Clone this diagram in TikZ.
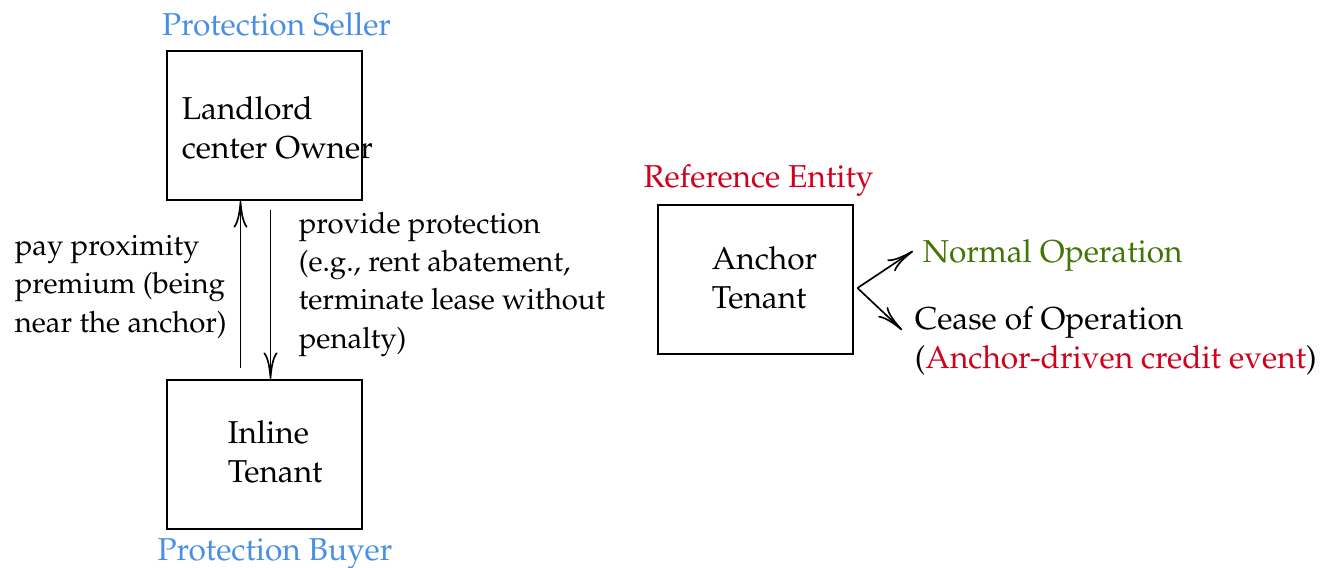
\documentclass[tikz,border=0pt]{standalone}
\usepackage[T1]{fontenc}
\usepackage{mathpazo}
\usepackage{xcolor}
\usetikzlibrary{calc, arrows.meta, positioning}
\definecolor{roleblue}{HTML}{4A90E2}
\definecolor{refred}{HTML}{D0021B}
\definecolor{normgreen}{HTML}{417505}
\tikzset{
    every node/.style = {font=\fontsize{9.5pt}{11.6pt}\selectfont},
    party/.style = {draw, line width=0.6pt, minimum width=58.5pt, minimum height=44.7pt, inner sep=0pt}, % the boxes of the parties
    partytext/.style = {align=left, inner sep=0pt, anchor=west},
    role/.style = {inner sep=0pt, anchor=base},
    outcome/.style = {align=left, inner sep=0pt, anchor=base west}, % base is the last line
    flow/.style = {outcome, font=\fontsize{8.8pt}{11.5pt}\selectfont} % the smaller labels of the arrows
}
\begin{document}
\begin{tikzpicture}[x=0.3pt, y=-0.3pt, >={To[length=8pt,width=4.2pt]}, line width=0.5pt]
    \useasboundingbox (0,0) rectangle (1325,567);
    % the three parties
    \node [party] (land) at (264.5,125.5) {};
    \node [party] (inline) at (264.5,454.5) {};
    \node [party] (anchor) at (755,279) {};
    \node [partytext] (landtxt) at (181,128) {Landlord\\center Owner};
    \node [partytext] (inlinetxt) at (227,452) {Inline\\Tenant};
    \node [partytext] (anchortxt) at (711,278) {Anchor\\Tenant};
    % roles
    \node [role, text=roleblue] (seller) at (276.5,35) {Protection Seller};
    \node [role, text=roleblue] (buyer) at (275,560) {Protection Buyer};
    \node [role, text=refred] (refent) at (758.5,187) {Reference Entity};
    % premium and protection
    \draw [->] ([xshift=-7.2pt,yshift=3.3pt]inline.north) -- ([xshift=-7.2pt]land.south);
    \draw [->] ([xshift=1.8pt,yshift=-2.7pt]land.south) -- ([xshift=1.8pt]inline.north);
    \node [flow] (premium) at (14,332) {pay proximity\\premium (being\\near the anchor)};
    \node [flow] (protect) at (298,348) {provide protection\\(e.g., rent abatement,\\terminate lease without\\penalty)};
    % outcomes of the anchor
    \coordinate (fork) at ([xshift=1.2pt,yshift=-2.7pt]anchor.east);
    \node [outcome, text=normgreen] (normal) at (922,262) {Normal Operation};
    \node [outcome] (cease) at (914,368) {Cease of Operation\\(\textcolor{refred}{Anchor-driven credit event})};
    \coordinate (normtip) at (913,251);
    \coordinate (ceasetip) at (902,330);
    \draw [->] (fork) -- (normtip);
    \draw [->] (fork) -- (ceasetip);
\end{tikzpicture}
\end{document}
